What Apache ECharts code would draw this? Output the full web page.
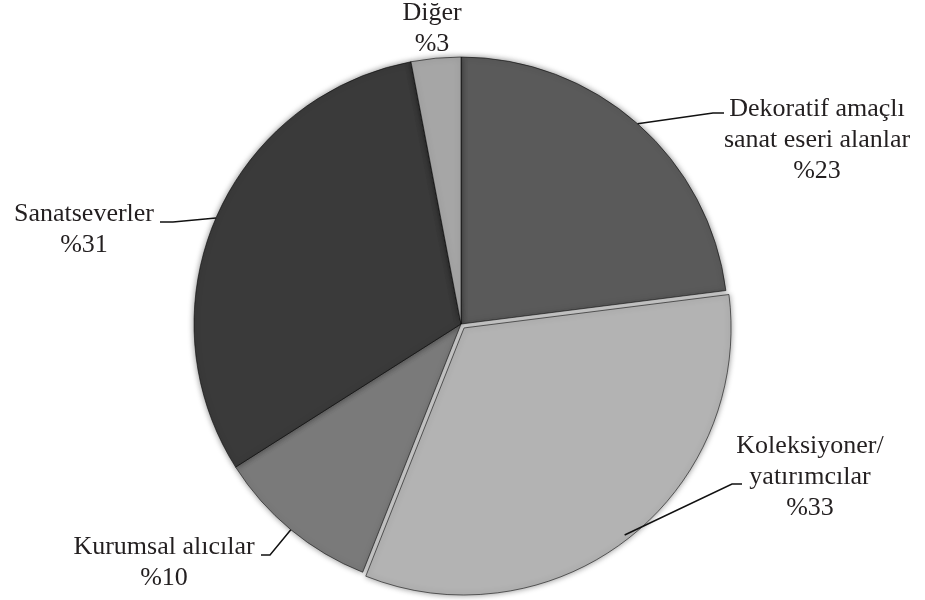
<!DOCTYPE html>
<html>
<head>
<meta charset="utf-8">
<script src="https://cdn.jsdelivr.net/npm/echarts@6/dist/echarts.min.js"></script>
<style>html,body{margin:0;padding:0;background:#fff;}#c{width:925px;height:600px;}</style>
</head>
<body>
<div id="c"></div>
<script>
// Data
const categories = ['Dekoratif amaçlı\nsanat eseri alanlar', 'Koleksiyoner/\nyatırımcılar', 'Kurumsal alıcılar', 'Sanatseverler', 'Diğer'];
const values = [23, 33, 10, 31, 3];
const labelTexts = ['%23', '%33', '%10', '%31', '%3'];

// Styling
const colors = ['#5a5a5a', '#b3b3b3', '#7a7a7a', '#3a3a3a', '#a6a6a6'];
// label block centres and label-line bend/end (styling only)
const labelPlace = [
  { x: 817, y: 140, bend: [713, 113], end: [724, 113] },
  { x: 810, y: 477, bend: [732, 484], end: [742, 484] },
  { x: 164, y: 563, bend: [270, 555], end: [261, 555] },
  { x: 84,  y: 230, bend: [173, 222], end: [160, 222] },
  { x: 432, y: 29,  bend: null, end: null }
];

const pieCenter = [461, 324];
const pieRadius = [0, 267];

const chart = echarts.init(document.getElementById('c'));
chart.setOption({
  animation: false,
  series: [{
    // visible slices
    type: 'pie',
    center: pieCenter,
    radius: pieRadius,
    startAngle: 90,
    clockwise: true,
    selectedMode: 'single',
    selectedOffset: 5,
    silent: true,
    itemStyle: {
      borderColor: 'rgba(0,0,0,0.55)',
      borderWidth: 1,
      shadowBlur: 6,
      shadowColor: 'rgba(0,0,0,0.45)'
    },
    label: { show: false },
    labelLine: { show: false },
    data: categories.map((c, i) => ({
      name: c,
      value: values[i],
      selected: i === 1,
      itemStyle: { color: colors[i] }
    }))
  }, {
    // labels only
    type: 'pie',
    center: pieCenter,
    radius: pieRadius,
    startAngle: 90,
    clockwise: true,
    silent: true,
    z: 3,
    itemStyle: { color: 'rgba(0,0,0,0)', borderWidth: 0 },
    label: {
      show: true,
      position: 'outside',
      fontFamily: 'Liberation Serif',
      fontSize: 26,
      lineHeight: 31,
      color: '#231f20',
      align: 'center',
      formatter: p => p.name + '\n' + labelTexts[p.dataIndex]
    },
    labelLine: {
      show: true,
      length: 20,
      length2: 10,
      lineStyle: { color: '#111', width: 1.5 }
    },
    labelLayout: function (params) {
      const lp = labelPlace[params.dataIndex];
      const res = { x: lp.x, y: lp.y, align: 'center', verticalAlign: 'middle' };
      if (lp.bend && params.labelLinePoints) {
        res.labelLinePoints = [params.labelLinePoints[0], lp.bend, lp.end];
      }
      return res;
    },
    data: categories.map((c, i) => ({
      name: c,
      value: values[i],
      labelLine: i === 4 ? { show: false } : undefined
    }))
  }]
});
</script>
</body>
</html>
